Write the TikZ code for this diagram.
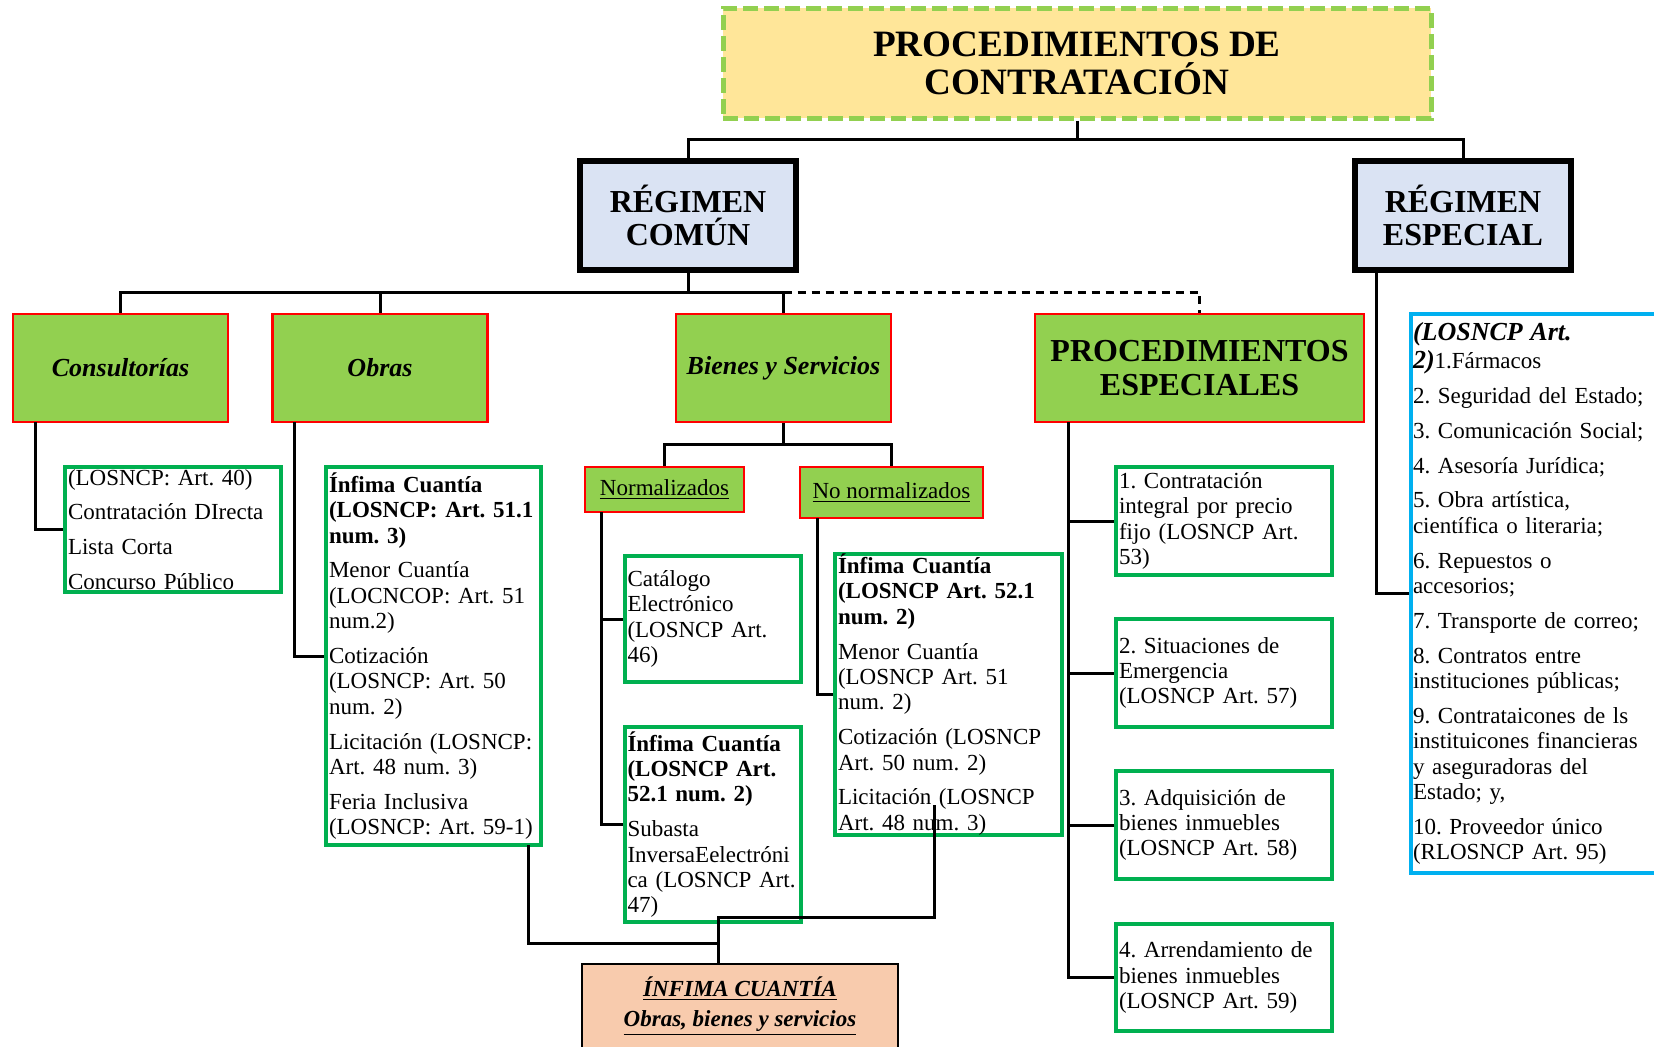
\documentclass[tikz,border=0pt]{standalone}
\usepackage{fontspec}
\setmainfont{Liberation Serif}
\frenchspacing
\definecolor{titlefill}{HTML}{FFE699}
\definecolor{limegreen}{HTML}{92D050}
\definecolor{regfill}{HTML}{DAE3F3}
\definecolor{catred}{HTML}{FF0000}
\definecolor{itemgreen}{HTML}{00B050}
\definecolor{listblue}{HTML}{00B0F0}
\definecolor{peach}{HTML}{F8CBAD}
\newcommand{\itemfont}{\fontsize{11.5}{12.7}\selectfont}
\newcommand{\headfont}{\fontsize{13}{14}\selectfont\bfseries\itshape}
\tikzset{conn/.style={line width=1.5pt, color=black}}
\tikzset{titlebox/.style={draw=limegreen, fill=titlefill, line width=2.5pt, dash pattern=on 7.5pt off 3pt, minimum width=354pt, minimum height=55pt, align=center, font=\fontsize{18.6}{19}\selectfont\bfseries}}
\tikzset{regbox/.style={draw, fill=regfill, line width=3pt, minimum width=108pt, minimum height=54.5pt, align=center, font=\fontsize{16}{16.4}\selectfont\bfseries}}
\tikzset{catbox/.style={draw=catred, fill=limegreen, line width=1.3pt, minimum width=107.5pt, minimum height=54pt, align=center, font=\fontsize{13}{15}\selectfont\bfseries\itshape}}
\tikzset{subcat/.style={draw=catred, fill=limegreen, line width=1.3pt, inner sep=0pt, align=center, font=\fontsize{11.5}{13}\selectfont}}
\tikzset{itembox/.style 2 args={draw=itemgreen, line width=2pt, inner xsep=1.5pt, inner ysep=0pt, text width=#1, minimum height=#2, align=left, font=\itemfont}}
\tikzset{listbox/.style={draw=listblue, line width=2pt, inner xsep=1pt, inner ysep=0pt, text width=130pt, minimum height=279.5pt, align=left, font=\itemfont}}
\tikzset{infbox/.style={draw, fill=peach, line width=0.8pt, minimum width=158pt, inner ysep=6.5pt, text depth=40pt, align=center, font=\fontsize{11.5}{14}\selectfont\bfseries\itshape}}

\begin{document}
\begin{tikzpicture}[x=0.5pt, y=-0.5pt]
    \useasboundingbox (0,0) rectangle (1654,1046);
    \clip (0,0) rectangle (1654,1046);

    \node[titlebox] (title) at (1077,63) {PROCEDIMIENTOS DE\\CONTRATACIÓN};
    \node[regbox] (comun) at (688,215.5) {RÉGIMEN\\COMÚN};
    \node[regbox] (especial) at (1463,215.5) {RÉGIMEN\\ESPECIAL};

    \node[catbox] (consult) at (120.5,368) {Consultorías};
    \node[catbox] (obras) at (380,368) {Obras};
    \node[catbox] (bienes) at (783.5,368) {Bienes y Servicios};
    \node[catbox, minimum width=164.5pt, font=\fontsize{16}{17}\selectfont\bfseries] (procesp) at (1199.5,368) {PROCEDIMIENTOS\\ESPECIALES};

    \node[subcat, minimum width=79.5pt, minimum height=22.5pt] (norm) at (664.5,489.5) {\underline{Normalizados}};
    \node[subcat, minimum width=91.5pt, minimum height=25.5pt] (nonorm) at (891.5,492.5) {\underline{No normalizados}};

    \node[itembox={105pt}{62.5pt}] (consbox) at (173,529.5) {(LOSNCP: Art. 40)\\[4.7pt]Contratación DIrecta\\[4.7pt]Lista Corta\\[4.7pt]Concurso Público};
    \node[itembox={104.5pt}{189pt}] (obrasbox) at (433.5,656) {\textbf{Ínfima Cuantía\\(LOSNCP: Art. 51.1\\num. 3)}\\[4.7pt]Menor Cuantía\\(LOCNCOP: Art. 51\\num.2)\\[4.7pt]Cotización\\(LOSNCP: Art. 50\\num. 2)\\[4.7pt]Licitación (LOSNCP:\\Art. 48 num. 3)\\[4.7pt]Feria Inclusiva\\(LOSNCP: Art. 59-1)};
    \node[itembox={85pt}{63pt}] (catal) at (712.5,619) {Catálogo\\Electrónico\\(LOSNCP Art.\\46)};
    \node[itembox={85pt}{97.5pt}] (infnorm) at (712.5,824.5) {\textbf{Ínfima Cuantía\\(LOSNCP Art.\\52.1 num. 2)}\\[4.7pt]Subasta\\InversaEelectróni\\ca (LOSNCP Art.\\47)};
    \node[itembox={110.5pt}{138.5pt}] (infnonorm) at (948.5,694.5) {\textbf{Ínfima Cuantía\\(LOSNCP Art. 52.1\\num. 2)}\\[4.7pt]Menor Cuantía\\(LOSNCP Art. 51\\num. 2)\\[4.7pt]Cotización (LOSNCP\\Art. 50 num. 2)\\[4.7pt]Licitación (LOSNCP\\Art. 48 num. 3)};

    \node[itembox={105pt}{54pt}] (esp1) at (1224,521) {1. Contratación\\integral por precio\\fijo (LOSNCP Art.\\53)};
    \node[itembox={105pt}{54pt}] (esp2) at (1224,673) {2. Situaciones de\\Emergencia\\(LOSNCP Art. 57)};
    \node[itembox={105pt}{54pt}] (esp3) at (1224,825) {3. Adquisición de\\bienes inmuebles\\(LOSNCP Art. 58)};
    \node[itembox={105pt}{53.5pt}] (esp4) at (1224,977.5) {4. Arrendamiento de\\bienes inmuebles\\(LOSNCP Art. 59)};

    \node[listbox, anchor=west] (lista) at (1409,593.5) {{\headfont (LOSNCP Art.}\\[1.5pt]{\headfont 2)}1.Fármacos\\[4.7pt]2. Seguridad del Estado;\\[4.7pt]3. Comunicación Social;\\[4.7pt]4. Asesoría Jurídica;\\[4.7pt]5. Obra artística,\\científica o literaria;\\[4.7pt]6. Repuestos o\\accesorios;\\[4.7pt]7. Transporte de correo;\\[4.7pt]8. Contratos entre\\instituciones públicas;\\[4.7pt]9. Contrataicones de ls\\instituicones financieras\\y aseguradoras del\\Estado; y,\\[4.7pt]10. Proveedor único\\(RLOSNCP Art. 95)};

    \node[infbox, anchor=north] (infima) at (740,963) {\underline{ÍNFIMA CUANTÍA}\\[1pt]\underline{Obras, bienes y servicios}};

    \coordinate (tbar) at (1077,139);
    \coordinate (cbar) at (688,292);
    \coordinate (bbar) at (783.5,444);
    \coordinate (cons) at (35,422);
    \coordinate (obr) at (294,422);
    \coordinate (nor) at (601,512);
    \coordinate (non) at (817.5,518);
    \coordinate (pe) at (1068.5,422);
    \coordinate (re) at (1376.5,270);
    \coordinate (j1) at (718,943);
    \coordinate (j2) at (718,917);
    \coordinate (obrasfoot) at (528,845);
    \coordinate (nonfoot) at (934,805);

    \draw[conn] (title.south) -- (tbar);
    \draw[conn] (comun.north) |- (tbar) -| (especial.north);
    \draw[conn] (comun.south) -- (cbar);
    \draw[conn] (consult.north) |- (bienes.north |- cbar) -- (bienes.north);
    \draw[conn] (obras.north) -- (obras.north |- cbar);
    \draw[conn, dash pattern=on 4pt off 3pt] (bienes.north |- cbar) -| (procesp.north);
    \draw[conn] (bienes.south) -- (bbar);
    \draw[conn] (norm.north) |- (bbar) -| (nonorm.north);
    \draw[conn] (cons) |- (consbox.west);
    \draw[conn] (obr) |- (obrasbox.west);
    \draw[conn] (nor) |- (catal.west);
    \draw[conn] (nor) |- (infnorm.west);
    \draw[conn] (non) |- (infnonorm.west);
    \draw[conn] (pe) |- (esp1.west);
    \draw[conn] (pe) |- (esp2.west);
    \draw[conn] (pe) |- (esp3.west);
    \draw[conn] (pe) |- (esp4.west);
    \draw[conn] (re) |- (lista.west);
    \draw[conn] (infima.north -| j1) -- (j1) -| (obrasfoot);
    \draw[conn] (j1) -- (j2) -| (nonfoot);
\end{tikzpicture}
\end{document}
